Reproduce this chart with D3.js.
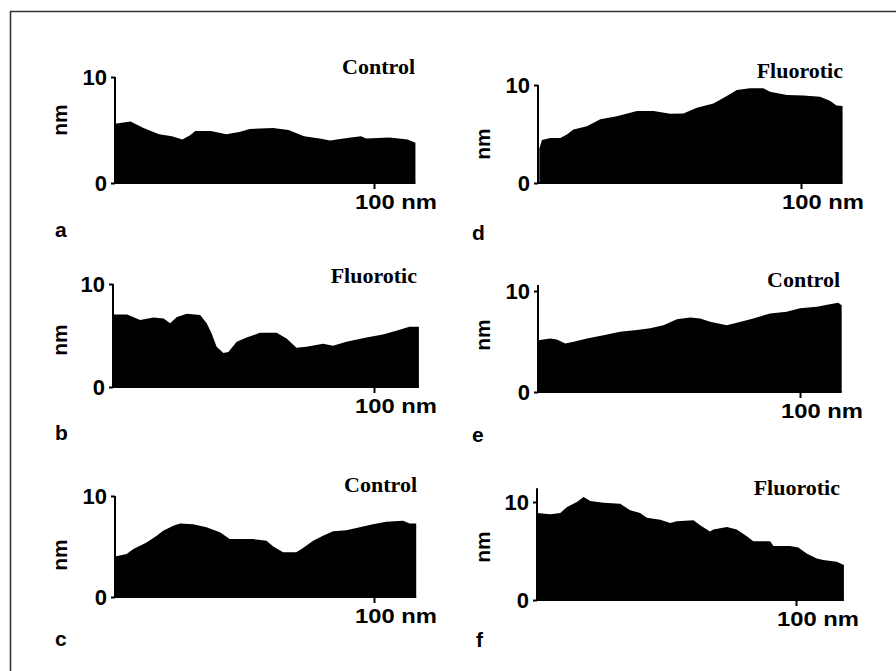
<!DOCTYPE html>
<html>
<head>
<meta charset="utf-8">
<script src="https://cdn.jsdelivr.net/npm/d3@7"></script>
<style>
  html, body { margin: 0; padding: 0; background: #fff; }
  svg { display: block; }
  .sans { font-family: "Liberation Sans", Arial, sans-serif; font-weight: bold; }
  .serif { font-family: "Liberation Serif", "Times New Roman", serif; font-weight: bold; }
</style>
</head>
<body>
<svg id="chart" width="896" height="671"></svg>
<script>
// Perfiles de altura (nm) a lo largo de la línea de barrido (nm)
const profileA = [[0,5.6],[6,5.8],[11,5.2],[17,4.6],[22,4.4],[26,4.1],[29,4.5],[31,4.9],[37,4.9],[43,4.6],[48,4.8],[52,5.1],[61,5.2],[67,5.0],[73,4.4],[79,4.2],[83,4.0],[91,4.3],[95,4.4],[97,4.2],[106,4.3],[113,4.1],[116,3.8]];
const profileB = [[0,7.05],[5.4,7.05],[10.4,6.5],[15.5,6.75],[19.4,6.65],[21.9,6.2],[24.5,6.8],[28.3,7.1],[33.4,7.0],[35.9,6.2],[37.8,5.2],[39.7,3.9],[42.3,3.3],[44.2,3.4],[47.4,4.4],[51.2,4.8],[56.3,5.26],[62.7,5.26],[66.5,4.7],[70.3,3.8],[74.1,3.9],[80.5,4.2],[84.3,4.0],[89.4,4.4],[97.1,4.8],[103.4,5.1],[108.5,5.45],[113.6,5.85],[117.2,5.85]];
const profileC = [[0,4.0],[4.5,4.26],[7.1,4.75],[12.2,5.4],[16.1,6.07],[18.6,6.56],[22.5,7.05],[25.1,7.28],[30.2,7.2],[35.3,6.9],[40.5,6.4],[44.3,5.74],[53.3,5.74],[58.5,5.57],[61.1,5.0],[64.9,4.43],[70,4.43],[72.6,4.85],[76.5,5.57],[80.3,6.07],[84.2,6.5],[89.3,6.62],[94.5,6.9],[99.6,7.2],[104.8,7.44],[111.2,7.54],[113.8,7.28],[116.3,7.28]];
const profileD = [[0.5,3.5],[1.5,4.4],[4.7,4.6],[8.5,4.6],[11,4.95],[13.5,5.46],[18.6,5.8],[23.7,6.5],[30,6.8],[37.6,7.34],[43.9,7.34],[50.3,7.06],[55.3,7.1],[60.4,7.68],[66.7,8.1],[71.8,8.87],[75.6,9.5],[80.6,9.66],[85.7,9.66],[88.2,9.3],[94.6,8.98],[100.9,8.94],[107.2,8.8],[111,8.4],[113.5,7.9],[115.8,7.85]];
const profileE = [[0,5.13],[4.7,5.3],[7.2,5.2],[10.4,4.8],[13.6,4.97],[18.7,5.3],[25,5.63],[31.3,5.96],[37.7,6.13],[42.8,6.3],[47.9,6.6],[53,7.2],[58.1,7.38],[61.9,7.28],[65.7,6.95],[72,6.6],[75.9,6.85],[82.2,7.28],[88.6,7.78],[94.9,7.95],[100,8.28],[106.4,8.44],[111.4,8.7],[114.6,8.84],[115.9,8.6]];
const profileF = [[0,8.88],[5.1,8.75],[9,8.88],[11.6,9.5],[15.4,10.0],[18,10.5],[20.6,10.1],[25.7,9.93],[32.1,9.83],[36,9.15],[39.8,8.88],[42.4,8.4],[47.6,8.2],[51.4,7.86],[54,8.03],[60.4,8.14],[63,7.63],[66.8,7.0],[68.1,7.2],[73.3,7.46],[77.1,7.2],[81,6.5],[83.5,6.0],[90,6.0],[91.3,5.5],[97.7,5.5],[100.9,5.36],[104.1,4.75],[108,4.24],[110.5,4.07],[115.7,3.9],[118.5,3.56]];

const profiles = [profileA, profileB, profileC, profileD, profileE, profileF];
const panelLetters = ["a", "b", "c", "d", "e", "f"];
const panelTitles = ["Control", "Fluorotic", "Control", "Fluorotic", "Control", "Fluorotic"];
const yTickValues = [0, 10];
const xTickValues = [100];
const xTickText = "100 nm";
const yAxisText = "nm";

// Posición de cada panel en la página (píxeles)
const layout = [
  { x0: 115, x100: 374, y0: 183, y10: 77,  yTop: 10,   titleX: 415, titleY: 74,  letterX: 55,  letterY: 237, nmX: 67,  nmY: 120 },
  { x0: 113, x100: 374, y0: 387, y10: 284, yTop: 10,   titleX: 417, titleY: 283, letterX: 55,  letterY: 440, nmX: 67,  nmY: 340 },
  { x0: 115, x100: 374, y0: 597, y10: 496, yTop: 10,   titleX: 417, titleY: 492, letterX: 55,  letterY: 646, nmX: 67,  nmY: 555 },
  { x0: 538, x100: 801, y0: 183, y10: 85,  yTop: 10,   titleX: 843, titleY: 78,  letterX: 472, letterY: 240, nmX: 490, nmY: 144 },
  { x0: 538, x100: 800, y0: 392, y10: 291, yTop: 10.6, titleX: 840, titleY: 287, letterX: 472, letterY: 442, nmX: 490, nmY: 335 },
  { x0: 537, x100: 796, y0: 600, y10: 502, yTop: 11.4, titleX: 840, titleY: 495, letterX: 476, letterY: 647, nmX: 490, nmY: 547 }
];

const svg = d3.select("#chart");

// marco de la figura
svg.append("path")
  .attr("d", "M10.5,671V11.5H896")
  .attr("fill", "none")
  .attr("stroke", "#333")
  .attr("stroke-width", 1.6);

profiles.forEach((data, i) => {
  const L = layout[i];
  const x = d3.scaleLinear().domain([0, 100]).range([L.x0, L.x100]);
  const y = d3.scaleLinear().domain([0, 10]).range([L.y0, L.y10]);
  const xEnd = d3.max(data, d => d[0]);
  const g = svg.append("g");

  // perfil relleno
  const area = d3.area()
    .x(d => x(d[0]))
    .y0(y(0))
    .y1(d => y(d[1]));
  g.append("path").datum(data).attr("d", area).attr("fill", "#000");

  // eje x
  g.append("line")
    .attr("x1", x(0)).attr("x2", x(xEnd))
    .attr("y1", y(0)).attr("y2", y(0))
    .attr("stroke", "#000").attr("stroke-width", 2);
  const xAxis = g.append("g")
    .attr("transform", `translate(0,${y(0)})`)
    .call(d3.axisBottom(x).tickValues(xTickValues).tickSize(6).tickSizeOuter(0).tickFormat(""));
  xAxis.select(".domain").remove();
  xAxis.selectAll(".tick line").attr("stroke", "#000").attr("stroke-width", 2);
  g.append("text")
    .attr("class", "sans")
    .attr("x", x(100) - 19)
    .attr("y", y(0) + 26)
    .attr("font-size", 21)
    .attr("textLength", 82)
    .attr("lengthAdjust", "spacingAndGlyphs")
    .text(xTickText);

  // eje y
  g.append("line")
    .attr("x1", x(0)).attr("x2", x(0))
    .attr("y1", y(0)).attr("y2", y(L.yTop))
    .attr("stroke", "#000").attr("stroke-width", 2);
  const yAxis = g.append("g")
    .attr("transform", `translate(${x(0)},0)`)
    .call(d3.axisLeft(y).tickValues(yTickValues).tickSize(4).tickPadding(4).tickSizeOuter(0).tickFormat(d3.format("d")));
  yAxis.select(".domain").remove();
  yAxis.selectAll(".tick line").attr("stroke", "#000").attr("stroke-width", 2);
  yAxis.selectAll(".tick text")
    .attr("class", "sans")
    .attr("font-size", 22)
    .attr("fill", "#000");

  g.append("text")
    .attr("class", "sans")
    .attr("transform", `translate(${L.nmX},${L.nmY}) rotate(-90)`)
    .attr("text-anchor", "middle")
    .attr("font-size", 21)
    .text(yAxisText);

  // título y letra del panel
  g.append("text")
    .attr("class", "serif")
    .attr("x", L.titleX).attr("y", L.titleY)
    .attr("text-anchor", "end")
    .attr("font-size", 22)
    .text(panelTitles[i]);

  g.append("text")
    .attr("class", "sans")
    .attr("x", L.letterX).attr("y", L.letterY)
    .attr("font-size", 21)
    .text(panelLetters[i]);
});
</script>
</body>
</html>
